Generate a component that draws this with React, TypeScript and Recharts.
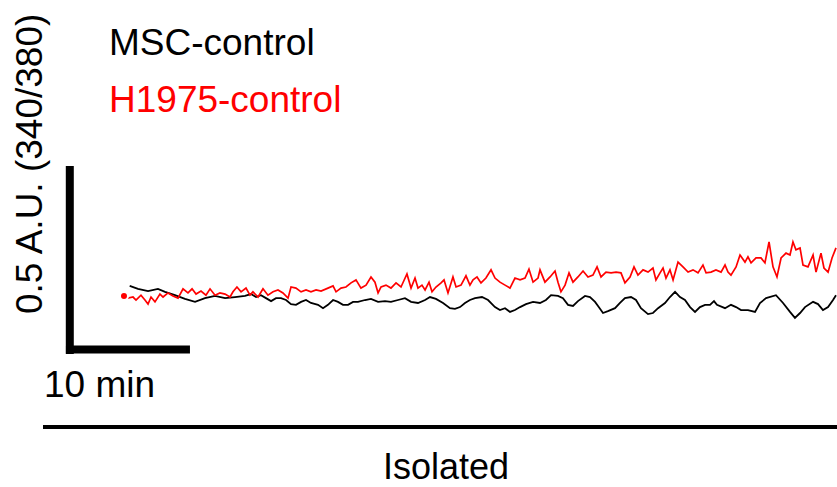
import React from 'react';
import { LineChart, Line, XAxis, YAxis, ReferenceLine } from 'recharts';

// Fura-2 ratio traces (340/380), change from start.
// [minutes, delta A.U.]
const mscControl: [number, number][] = [
  [0.62, 0.038], [1.29, 0.03], [2.1, 0.024], [2.9, 0.03], [3.47, 0.022], [4.27, 0.013],
  [5.08, 0.003], [5.89, -0.005], [6.69, 0.005], [7.5, 0.011], [8.31, 0.005], [9.11, 0.008],
  [9.92, 0.011], [10.4, 0.016], [10.81, 0.008], [11.21, 0.013], [11.61, 0.005], [12.02, -0.003],
  [12.42, 0.005], [12.82, 0.005], [13.23, 0], [13.63, -0.011], [14.03, -0.013], [14.44, -0.005],
  [14.84, 0], [15.24, -0.008], [15.81, -0.013], [16.21, -0.022], [16.61, -0.013], [17.02, 0],
  [17.42, -0.005], [17.82, -0.013], [18.23, -0.013], [18.63, -0.005], [19.03, -0.005], [19.6, 0],
  [20.08, 0.003], [20.65, -0.005], [21.21, -0.003], [21.69, -0.005], [22.26, 0], [22.82, 0.005],
  [23.31, -0.005], [23.87, -0.008], [24.44, 0], [24.84, 0.008], [25.32, 0.003], [25.89, -0.008],
  [26.45, -0.022], [26.85, -0.024], [27.26, -0.019], [27.66, -0.008], [28.06, 0], [28.47, 0.005],
  [29.03, 0.008], [29.52, 0], [30.08, -0.019], [30.48, -0.027], [30.89, -0.022], [31.29, -0.032],
  [31.69, -0.027], [32.1, -0.019], [32.58, -0.011], [33.15, -0.005], [33.71, -0.008], [34.19, 0],
  [34.6, 0.013], [35.16, 0.011], [35.56, 0.005], [35.97, -0.013], [36.37, -0.016], [36.77, -0.003],
  [37.34, 0.011], [37.74, 0.008], [38.15, -0.005], [38.39, -0.016], [38.79, -0.035], [39.19, -0.03],
  [39.76, -0.022], [40.16, -0.008], [40.56, 0.005], [41.05, 0.008], [41.45, 0], [41.85, -0.022],
  [42.42, -0.038], [42.82, -0.035], [43.23, -0.022], [43.79, -0.008], [44.19, 0.008], [44.6, 0.022],
  [45.0, 0.008], [45.4, 0], [45.81, -0.019], [46.21, -0.032], [46.61, -0.019], [47.02, -0.013],
  [47.42, -0.013], [47.74, -0.003], [47.98, -0.013], [48.63, -0.022], [49.11, -0.013], [49.52, -0.019],
  [49.92, -0.027], [50.48, -0.027], [51.05, -0.032], [51.45, -0.008], [51.94, 0.005], [52.74, 0.013],
  [53.31, -0.008], [53.87, -0.032], [54.27, -0.048], [54.68, -0.035], [55.08, -0.019], [55.73, -0.005],
  [56.13, -0.011], [56.53, -0.027], [56.94, -0.019], [57.34, 0], [57.58, 0.013],
];

const h1975Control: [number, number][] = [
  [0.16, 0.011], [0.48, 0.005], [0.89, 0.008], [1.13, 0], [1.53, 0.013], [1.85, 0],
  [2.1, -0.011], [2.34, 0.008], [2.66, -0.005], [3.06, 0.016], [3.31, 0.008], [3.71, 0.019],
  [4.11, 0.011], [4.52, 0.005], [4.92, 0.03], [5.32, 0.019], [5.65, 0.03], [5.97, 0.016],
  [6.37, 0.024], [6.77, 0.013], [7.1, 0.03], [7.5, 0.013], [7.9, 0.019], [8.31, 0.016],
  [8.71, 0.008], [8.95, 0.022], [9.27, 0.035], [9.6, 0.022], [10.0, 0.032], [10.32, 0.013],
  [10.56, 0.022], [10.97, 0.008], [11.37, 0.03], [11.77, 0.013], [12.18, 0.022], [12.58, 0.027],
  [12.98, 0.019], [13.39, 0.005], [13.63, 0.035], [14.03, 0.032], [14.44, 0.022], [14.84, 0.027],
  [15.24, 0.022], [15.65, 0.027], [16.05, 0.024], [16.61, 0.032], [17.02, 0.038], [17.26, 0.022],
  [17.66, 0.032], [18.06, 0.035], [18.47, 0.046], [18.87, 0.054], [19.27, 0.032], [19.68, 0.04],
  [20.08, 0.062], [20.4, 0.048], [20.65, 0.019], [20.89, 0.035], [21.29, 0.04], [21.69, 0.032],
  [22.1, 0.046], [22.5, 0.035], [22.98, 0.07], [23.31, 0.032], [23.63, 0.059], [23.87, 0.032],
  [24.19, 0.04], [24.44, 0.027], [24.76, 0.048], [25.0, 0.022], [25.32, 0.035], [25.73, 0.046],
  [25.97, 0.054], [26.29, 0.019], [26.69, 0.062], [26.94, 0.035], [27.34, 0.04], [27.74, 0.065],
  [28.06, 0.04], [28.31, 0.054], [28.63, 0.062], [28.95, 0.046], [29.35, 0.059], [29.76, 0.081],
  [30.08, 0.059], [30.48, 0.048], [30.89, 0.04], [31.29, 0.032], [31.69, 0.059], [32.1, 0.054],
  [32.5, 0.059], [32.82, 0.083], [33.15, 0.048], [33.55, 0.059], [33.71, 0.081], [34.11, 0.048],
  [34.52, 0.062], [34.92, 0.078], [35.16, 0.048], [35.4, 0.022], [35.73, 0.04], [36.05, 0.073],
  [36.37, 0.048], [36.77, 0.062], [37.18, 0.078], [37.58, 0.062], [37.98, 0.067], [38.31, 0.089],
  [38.63, 0.062], [39.03, 0.075], [39.44, 0.073], [39.84, 0.075], [40.24, 0.073], [40.56, 0.046],
  [40.97, 0.062], [41.29, 0.089], [41.61, 0.067], [42.02, 0.081], [42.42, 0.075], [42.82, 0.086],
  [43.06, 0.054], [43.39, 0.073], [43.63, 0.086], [43.87, 0.059], [44.19, 0.081], [44.44, 0.054],
  [44.84, 0.102], [45.24, 0.089], [45.65, 0.075], [46.05, 0.081], [46.45, 0.073], [46.85, 0.094],
  [47.1, 0.073], [47.5, 0.075], [47.9, 0.081], [48.31, 0.075], [48.63, 0.094], [48.87, 0.075],
  [49.11, 0.067], [49.52, 0.089], [49.84, 0.121], [50.24, 0.102], [50.48, 0.116], [50.73, 0.1],
  [51.13, 0.113], [51.53, 0.113], [51.85, 0.1], [52.18, 0.156], [52.5, 0.089], [52.82, 0.062],
  [53.15, 0.113], [53.55, 0.126], [53.87, 0.121], [54.11, 0.156], [54.35, 0.135], [54.68, 0.14],
  [54.92, 0.094], [55.32, 0.089], [55.73, 0.121], [55.97, 0.075], [56.37, 0.126], [56.61, 0.086],
  [56.94, 0.075], [57.26, 0.113], [57.58, 0.14],
];

// scale bars
const barMinutes = 10;
const barAU = 0.5;

const toRows = (pts: [number, number][]) => pts.map(([t, v]) => ({ t, v }));

const W = 837;
const H = 487;
const font = '"Liberation Sans", Arial, sans-serif';

export default function App() {
  const barX0 = -4.52;
  const barY0 = -0.14;
  return (
    <div style={{ position: 'absolute', left: 0, top: 0, width: W, height: H, background: '#fff' }}>
      <LineChart width={W} height={H} margin={{ top: 0, right: 0, bottom: 0, left: 0 }}>
        <XAxis type="number" dataKey="t" domain={[-9.839, 57.661]} allowDataOverflow hide />
        <YAxis type="number" dataKey="v" domain={[-0.5027, 0.8065]} allowDataOverflow hide />
        <ReferenceLine
          segment={[{ x: barX0, y: barY0 + 0.007 }, { x: barX0 + barMinutes, y: barY0 + 0.007 }]}
          stroke="#000"
          strokeWidth={8}
        />
        <ReferenceLine
          segment={[{ x: barX0 + 0.31, y: barY0 - 0.005 }, { x: barX0 + 0.31, y: barY0 + barAU }]}
          stroke="#000"
          strokeWidth={8}
        />
        <Line data={toRows(mscControl)} dataKey="v" type="linear" stroke="#000" strokeWidth={1.8} dot={false} isAnimationActive={false} />
        <Line data={toRows(h1975Control)} dataKey="v" type="linear" stroke="#ff0000" strokeWidth={1.7} dot={false} isAnimationActive={false} />
      </LineChart>
      <svg width={W} height={H} style={{ position: 'absolute', left: 0, top: 0, pointerEvents: 'none' }}>
        <g fontFamily={font} fontSize={37}>
          <text x={109} y={55} fill="#000">MSC-control</text>
          <text x={109} y={112} fill="#ff0000">H1975-control</text>
          <text x={42} y={314} transform="rotate(-90 42 314)" fill="#000">0.5 A.U. (340/380)</text>
          <text x={44} y={397} fill="#000">10 min</text>
          <text x={446} y={479} textAnchor="middle" fontSize={36} fill="#000">Isolated</text>
        </g>
        <line x1={43} y1={427} x2={W} y2={427} stroke="#000" strokeWidth={4} />
      </svg>
    </div>
  );
}
